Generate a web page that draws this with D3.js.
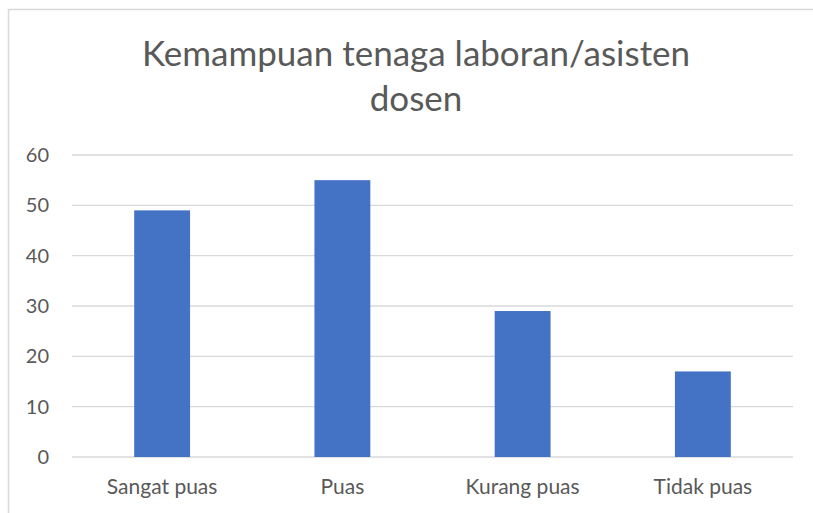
<!DOCTYPE html>
<html><head><meta charset="utf-8">
<script src="https://cdn.jsdelivr.net/npm/d3@7"></script>
<style>body{margin:0;background:#fff}svg{display:block}</style>
</head><body>
<script>
const categories = ["Sangat puas", "Puas", "Kurang puas", "Tidak puas"];
const values = [49, 55, 29, 17];
const yTicks = [0, 10, 20, 30, 40, 50, 60];
const titleLines = ["Kemampuan tenaga laboran/asisten", "dosen"];

const W = 813, H = 513;
const svg = d3.select("body").append("svg").attr("width", W).attr("height", H);
const font = "Lato, 'Open Sans', sans-serif";

// outer chart border
svg.append("rect").attr("x", 8.5).attr("y", 9.5).attr("width", W + 10).attr("height", H + 10)
  .attr("fill", "none").attr("stroke", "#d9d9d9").attr("stroke-width", 1.5);

const x = d3.scaleBand().domain(categories).range([72, 793]);
const y = d3.scaleLinear().domain([0, 60]).range([457, 155]);

// gridlines
svg.append("g").selectAll("line").data(yTicks).join("line")
  .attr("x1", 72).attr("x2", 793)
  .attr("y1", d => y(d)).attr("y2", d => y(d))
  .attr("stroke", "#d9d9d9").attr("stroke-width", 1.3);

// y axis labels
const yAxis = d3.axisLeft(y).tickValues(yTicks).tickSize(0).tickPadding(0);
const gy = svg.append("g").attr("transform", "translate(49,0)").call(yAxis);
gy.select(".domain").remove();
gy.selectAll("text").attr("font-family", font).attr("font-size", 20).attr("fill", "#595959");

// bars
const bw = x.bandwidth() * 0.31;
svg.append("g").selectAll("rect").data(values).join("rect")
  .attr("x", (d, i) => x(categories[i]) + x.bandwidth() / 2 - bw / 2)
  .attr("width", bw)
  .attr("y", d => y(d))
  .attr("height", d => y(0) - y(d))
  .attr("fill", "#4472c4");

// x axis labels
const xAxis = d3.axisBottom(x).tickSize(0).tickPadding(0);
const gx = svg.append("g").attr("transform", "translate(0,479)").call(xAxis);
gx.select(".domain").remove();
gx.selectAll("text").attr("font-family", font).attr("font-size", 21).attr("fill", "#595959");

// title
svg.append("g").selectAll("text").data(titleLines).join("text")
  .attr("x", 416).attr("y", (d, i) => 66 + i * 45)
  .attr("text-anchor", "middle")
  .attr("font-family", font).attr("font-size", 35).attr("fill", "#595959")
  .text(d => d);
</script>
</body></html>
